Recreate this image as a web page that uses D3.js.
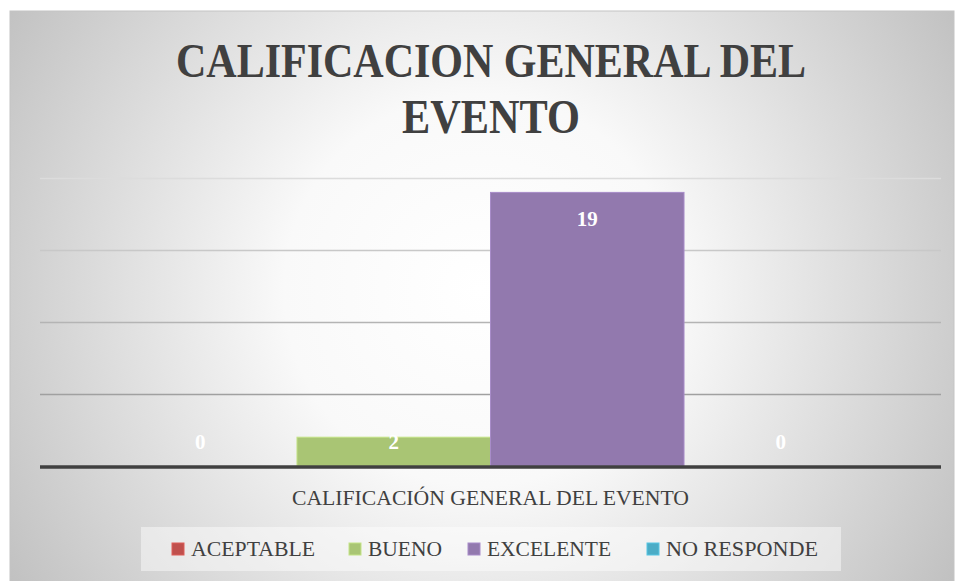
<!DOCTYPE html>
<html><head><meta charset="utf-8">
<script src="https://cdn.jsdelivr.net/npm/d3@7"></script>
<style>html,body{margin:0;padding:0;background:#fff;}svg{display:block;}</style>
</head><body>
<script>
const titleLines = ["CALIFICACION GENERAL DEL", "EVENTO"];
const categoryLabel = "CALIFICACIÓN GENERAL DEL EVENTO";
const seriesNames = ["ACEPTABLE", "BUENO", "EXCELENTE", "NO RESPONDE"];
const seriesValues = [0, 2, 19, 0];
const seriesColors = ["#c0504d", "#a9c574", "#9279ae", "#4bacc6"];
const gridTicks = [5, 10, 15, 20];

const W = 958, H = 581;
const svg = d3.select("body").append("svg").attr("width", W).attr("height", H);
const defs = svg.append("defs");
const rg = defs.append("radialGradient").attr("id", "bg")
  .attr("gradientUnits", "userSpaceOnUse")
  .attr("cx", 480).attr("cy", 290).attr("r", 560);
rg.append("stop").attr("offset", "0").attr("stop-color", "#ffffff");
rg.append("stop").attr("offset", "0.35").attr("stop-color", "#f9f9f9");
rg.append("stop").attr("offset", "0.75").attr("stop-color", "#d6d6d6");
rg.append("stop").attr("offset", "1").attr("stop-color", "#c0c0c0");

svg.append("rect").attr("x", 10).attr("y", 11).attr("width", 944).attr("height", 575)
  .attr("fill", "url(#bg)").attr("stroke", "#c4c4c4").attr("stroke-width", 1);

const serif = "'Liberation Serif', 'DejaVu Serif', serif";

// title
const titleW = [630, 178];
titleLines.forEach((t, i) => {
  svg.append("text").attr("x", 491).attr("y", 77 + i * 56)
    .attr("text-anchor", "middle").attr("font-family", serif).attr("font-weight", "bold")
    .attr("font-size", 48).attr("fill", "#404040")
    .attr("textLength", titleW[i]).attr("lengthAdjust", "spacingAndGlyphs")
    .text(t);
});

const plot = {x0: 40, x1: 941, yBase: 466};
const y = d3.scaleLinear().domain([0, 20]).range([plot.yBase, 178]);
const x0 = d3.scaleBand().domain([categoryLabel]).range([plot.x0, plot.x1]).paddingInner(0).paddingOuter(0.082);
const x1 = d3.scaleBand().domain(seriesNames).range([0, x0.bandwidth()]).padding(0);

const gridColor = d3.scaleLinear().domain([5, 20]).range(["#a0a0a0", "#dcdcdc"]);
svg.append("g").selectAll("line").data(gridTicks).join("line")
  .attr("x1", plot.x0).attr("x2", plot.x1)
  .attr("y1", d => Math.round(y(d)) + 0.5).attr("y2", d => Math.round(y(d)) + 0.5)
  .attr("stroke", d => gridColor(d)).attr("stroke-width", 1.5);

const data = seriesNames.map((n, i) => ({name: n, value: seriesValues[i], color: seriesColors[i]}));
const g = svg.append("g").attr("transform", `translate(${x0(categoryLabel)},0)`);
g.selectAll("rect").data(data).join("rect")
  .attr("x", d => x1(d.name)).attr("width", x1.bandwidth())
  .attr("y", d => y(d.value)).attr("height", d => plot.yBase - y(d.value))
  .attr("fill", d => d.color).attr("stroke", d => d3.color(d.color).brighter(0.4)).attr("stroke-width", 1);

g.selectAll("text.lbl").data(data).join("text").attr("class", "lbl")
  .attr("x", d => x1(d.name) + x1.bandwidth() / 2)
  .attr("y", d => Math.min(y(d.value) + 26, plot.yBase - 24))
  .attr("dy", "0.35em").attr("text-anchor", "middle")
  .attr("font-family", serif).attr("font-weight", "bold").attr("font-size", 21)
  .attr("fill", "#ffffff").text(d => d.value);

// baseline axis
svg.append("line").attr("x1", plot.x0).attr("x2", plot.x1)
  .attr("y1", plot.yBase + 1).attr("y2", plot.yBase + 1)
  .attr("stroke", "#404040").attr("stroke-width", 3.5);

// category label
svg.append("text").attr("x", x0(categoryLabel) + x0.bandwidth() / 2).attr("y", 505)
  .attr("text-anchor", "middle").attr("font-family", serif).attr("font-size", 22)
  .attr("fill", "#404040").attr("textLength", 397).attr("lengthAdjust", "spacingAndGlyphs")
  .text(categoryLabel);

// legend
svg.append("rect").attr("x", 141).attr("y", 527).attr("width", 700).attr("height", 44)
  .attr("fill", "#ffffff").attr("fill-opacity", 0.45);
const legendX = [172, 349, 468, 647];
const legendTextW = [124, 74, 124, 152];
const lg = svg.append("g").selectAll("g").data(data).join("g")
  .attr("transform", (d, i) => `translate(${legendX[i]},0)`);
lg.append("rect").attr("x", 0).attr("y", 543).attr("width", 12).attr("height", 12)
  .attr("fill", d => d.color).attr("stroke", d => d3.color(d.color).brighter(0.4));
lg.append("text").attr("x", 19).attr("y", 556)
  .attr("font-family", serif).attr("font-size", 22).attr("fill", "#404040")
  .attr("textLength", (d, i) => legendTextW[i]).attr("lengthAdjust", "spacingAndGlyphs")
  .text(d => d.name);
</script>
</body></html>
